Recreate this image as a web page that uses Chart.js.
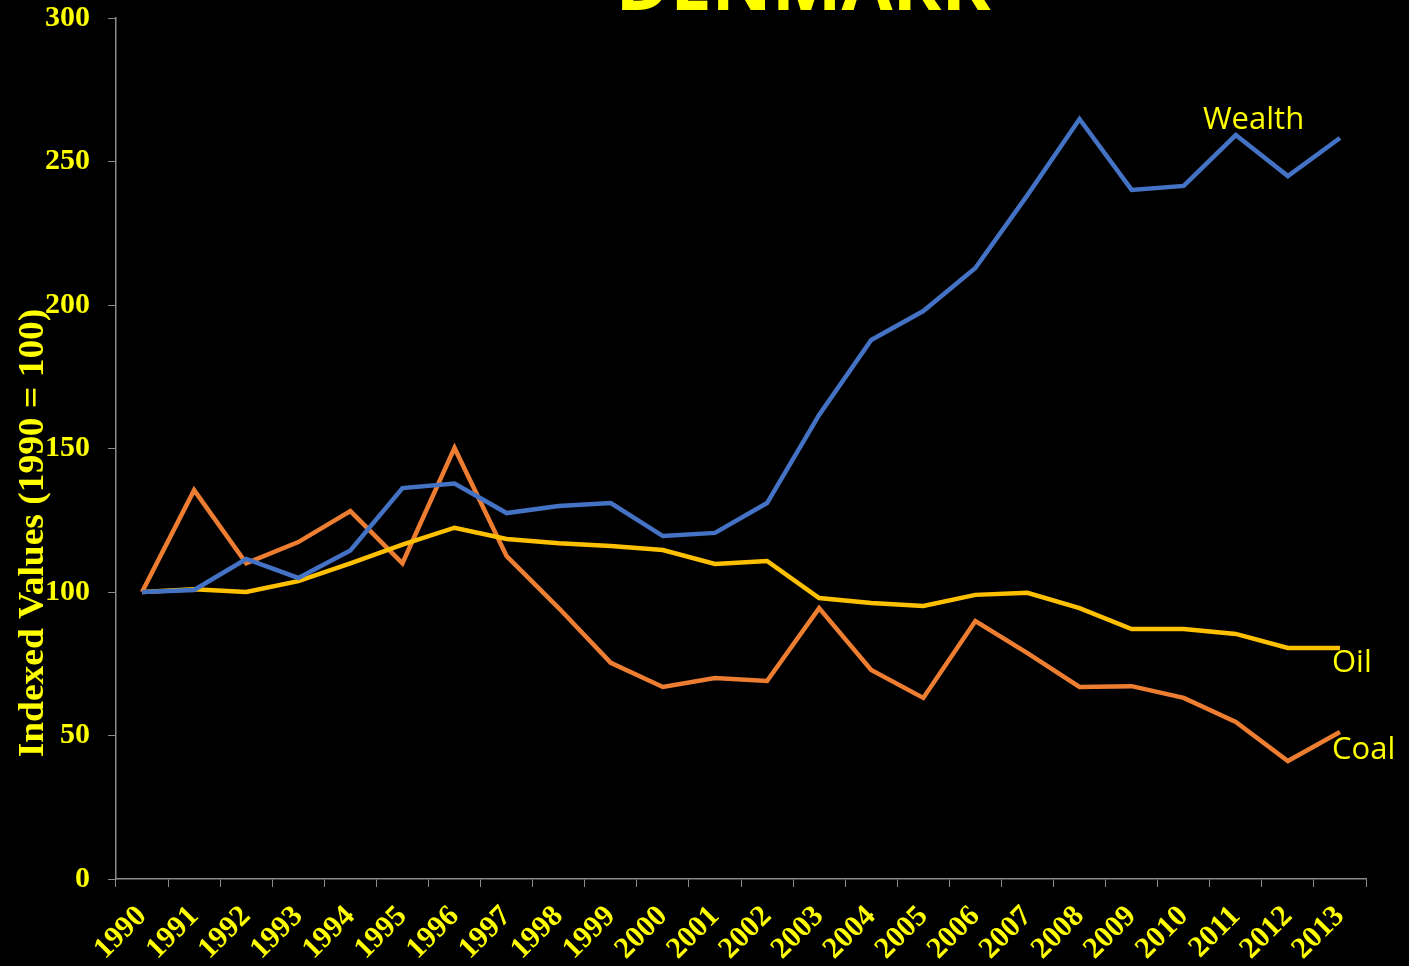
<!DOCTYPE html>
<html>
<head>
<meta charset="utf-8">
<script src="https://cdn.jsdelivr.net/npm/chart.js@4.4.1/dist/chart.umd.min.js"></script>
<style>
  html, body { margin: 0; padding: 0; background: #000; }
  #wrap { width: 1409px; height: 966px; position: relative; }
</style>
</head>
<body>
<div id="wrap"><canvas id="c" width="1409" height="966"></canvas></div>
<script>
const years = ['1990','1991','1992','1993','1994','1995','1996','1997','1998','1999','2000','2001','2002','2003','2004','2005','2006','2007','2008','2009','2010','2011','2012','2013'];
const wealth = [100, 100.7, 111.5, 104.9, 114.5, 136.2, 137.8, 127.5, 130, 131, 119.5, 120.6, 131, 161.7, 187.8, 197.9, 212.9, 238.3, 264.8, 240.1, 241.5, 259.2, 244.9, 258.2];
const oil    = [100, 101, 100, 103.8, 110, 116.5, 122.4, 118.5, 117, 116, 114.6, 109.8, 110.8, 97.9, 96.2, 95.1, 99, 99.7, 94.4, 87.1, 87.1, 85.4, 80.5, 80.5];
const coal   = [100, 135.5, 110, 117.4, 128.2, 110, 150.2, 112.5, 94.4, 75.3, 66.9, 70, 69, 94.4, 72.8, 63.1, 89.9, 78.7, 66.9, 67.2, 63.1, 54.7, 41.1, 51.2];
const yTicks = [0, 50, 100, 150, 200, 250, 300];
const titleText = 'DENMARK';
const yTitleText = 'Indexed Values (1990 = 100)';
const seriesNames = ['Wealth', 'Oil', 'Coal'];

const YELLOW = '#FFFF00';
const AXIS = '#8a8a8a';
const serif = '"Liberation Serif", "Times New Roman", serif';

const overlay = {
  id: 'overlay',
  afterDraw(chart) {
    const ctx = chart.ctx;
    ctx.save();
    ctx.fillStyle = YELLOW;
    ctx.font = 'bold 74px "Open Sans", sans-serif';
    ctx.textAlign = 'center';
    ctx.textBaseline = 'alphabetic';
    ctx.fillText(titleText, 803, 10);
    ctx.save();
    ctx.translate(34, 533);
    ctx.rotate(-Math.PI / 2);
    ctx.scale(1.07, 1);
    ctx.font = 'bold 35px ' + serif;
    ctx.textAlign = 'center';
    ctx.textBaseline = 'middle';
    ctx.fillText(yTitleText, 0, 0);
    ctx.restore();
    ctx.font = '31px "Open Sans", sans-serif';
    ctx.textAlign = 'left';
    ctx.textBaseline = 'alphabetic';
    ctx.fillText(seriesNames[0], 1203, 129);
    ctx.fillText(seriesNames[1], 1332, 672);
    ctx.fillText(seriesNames[2], 1332, 759);
    ctx.restore();
  }
};

new Chart(document.getElementById('c'), {
  type: 'line',
  data: {
    labels: years,
    datasets: [
      { label: seriesNames[0], data: wealth, borderColor: '#4472C4', borderWidth: 4.5, pointRadius: 0, tension: 0, fill: false },
      { label: seriesNames[1], data: oil, borderColor: '#FFC000', borderWidth: 4.5, pointRadius: 0, tension: 0, fill: false },
      { label: seriesNames[2], data: coal, borderColor: '#ED7D31', borderWidth: 4.5, pointRadius: 0, tension: 0, fill: false }
    ]
  },
  options: {
    responsive: false,
    animation: false,
    events: [],
    layout: { padding: { top: 18, right: 43, left: 0, bottom: 0 } },
    plugins: { legend: { display: false }, title: { display: false }, tooltip: { enabled: false } },
    scales: {
      x: {
        type: 'category',
        offset: true,
        grid: { display: true, drawOnChartArea: false, drawTicks: true, tickLength: 8, color: AXIS, offset: true },
        border: { color: AXIS, width: 1.5 },
        ticks: { color: YELLOW, font: { family: serif, size: 30, weight: 'bold' }, minRotation: 45, maxRotation: 45, autoSkip: false, padding: 12 },
        afterFit(scale) { scale.height = 87; scale.paddingLeft = 0; scale.paddingRight = 0; }
      },
      y: {
        min: 0, max: 300,
        afterBuildTicks(scale) { scale.ticks = yTicks.map(v => ({ value: v })); },
        grid: { display: true, drawOnChartArea: false, drawTicks: true, tickLength: 8, color: AXIS },
        border: { color: AXIS, width: 1.5 },
        ticks: { color: YELLOW, font: { family: serif, size: 30, weight: 'bold' }, padding: 18 },
        afterFit(scale) { scale.width = 116; scale.paddingTop = 0; scale.paddingBottom = 0; }
      }
    }
  },
  plugins: [overlay]
});
</script>
</body>
</html>
